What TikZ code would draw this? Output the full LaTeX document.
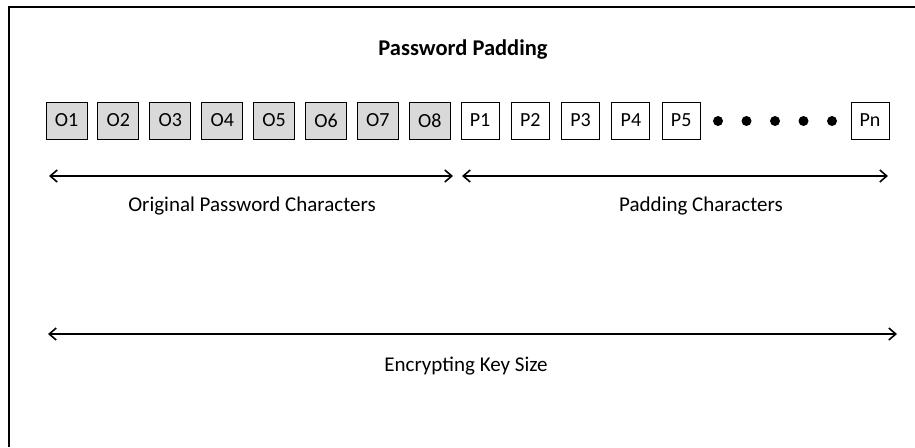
\documentclass[tikz,border=0pt]{standalone}
\usepackage{fontspec}
\setmainfont{Carlito}
\usepackage{tikz}
\usetikzlibrary{arrows.meta}

\tikzset{
  charbox/.style={draw, line width=1pt, minimum height=37pt, inner sep=0pt, font=\fontsize{20}{23}\selectfont},
  origbox/.style={charbox, fill=black!15, minimum width=41pt},
  padbox/.style={charbox, fill=white, minimum width=38pt},
  bigdot/.style={circle, fill=black, inner sep=0pt, minimum size=10pt},
  span/.style={{Straight Barb[length=7pt,width=12pt]}-{Straight Barb[length=7pt,width=12pt]}, line width=1.6pt},
  spanlabel/.style={inner sep=0pt, font=\fontsize{21}{25}\selectfont}
}

\begin{document}
\begin{tikzpicture}[x=1pt, y=-1pt]
    \useasboundingbox (0,0) rectangle (915,447);

    % frame (only top and left show)
    \draw[line width=1.8pt] (9,447) -- (9,7) -- (915,7);

    \node[inner sep=0pt, font=\fontsize{22.5}{26}\selectfont\bfseries] (title) at (463,50) {Password Padding};

    % original password characters
    \node[origbox] (o1) at (66.5,120.5) {O1};
    \node[origbox] (o2) at (118.4,120.5) {O2};
    \node[origbox] (o3) at (170.3,120.5) {O3};
    \node[origbox] (o4) at (222.2,120.5) {O4};
    \node[origbox] (o5) at (274.1,120.5) {O5};
    \node[origbox] (o6) at (326.0,120.5) {O6};
    \node[origbox] (o7) at (377.9,120.5) {O7};
    \node[origbox] (o8) at (429.8,120.5) {O8};

    % padding characters
    \node[padbox] (p1) at (480,120.5) {P1};
    \node[padbox] (p2) at (530.3,120.5) {P2};
    \node[padbox] (p3) at (580.6,120.5) {P3};
    \node[padbox] (p4) at (630.9,120.5) {P4};
    \node[padbox] (p5) at (681.2,120.5) {P5};
    \node[bigdot] (d1) at (718,121) {};
    \node[bigdot] (d2) at (746.5,121) {};
    \node[bigdot] (d3) at (775,121) {};
    \node[bigdot] (d4) at (803.5,121) {};
    \node[bigdot] (d5) at (832,121) {};
    \node[padbox] (pn) at (870,120.5) {Pn};

    % spans
    \coordinate (origL) at (49,176);
    \coordinate (origR) at (453,176);
    \coordinate (padL) at (462,176);
    \coordinate (padR) at (888,176);
    \coordinate (keyL) at (48,334);
    \coordinate (keyR) at (897,334);

    \draw[span] (origL) -- (origR);
    \draw[span] (padL) -- (padR);
    \draw[span] (keyL) -- (keyR);

    \node[spanlabel] (origtext) at (252,206) {Original Password Characters};
    \node[spanlabel] (padtext) at (701,206) {Padding Characters};
    \node[spanlabel] (keytext) at (466,366) {Encrypting Key Size};
\end{tikzpicture}
\end{document}
